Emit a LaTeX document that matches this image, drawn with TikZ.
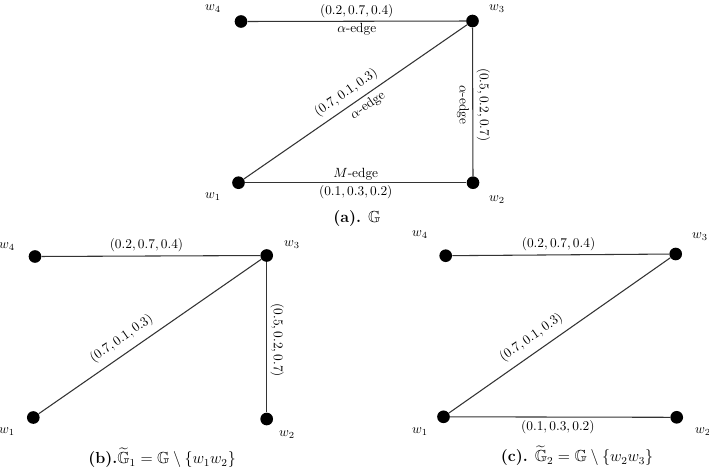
\documentclass[tikz,border=0pt]{standalone}
\usepackage{amsmath,amssymb}
\begin{document}
\begin{tikzpicture}[x=0.75pt,y=-0.75pt,
  dot/.style={circle,fill=black,inner sep=0pt,minimum size=9.5pt},
  edge/.style={draw=black!80,line width=0.8pt},
  elab/.style={inner sep=2.5pt},
  captxt/.style={font=\large}]
\useasboundingbox (0,0) rectangle (709,472);
% ---------- (a) ----------
\node[dot] (a1) at (238.5,182.7) {};
\node[dot] (a2) at (473,182.7) {};
\node[dot] (a3) at (472.5,21) {};
\node[dot] (a4) at (241,21.5) {};
\node (la1) at (213,197) {$w_1$};
\node (la2) at (497,200) {$w_2$};
\node (la3) at (497,9) {$w_3$};
\node (la4) at (213,9) {$w_4$};
\draw[edge] (a4) -- node[above,elab] (ea43) {$(0.2,0.7,0.4)$} node[below,elab,inner sep=1pt] (ea43b) {$\alpha$-edge} (a3);
\draw[edge] (a1) -- node[pos=0.49,sloped,above,elab,yshift=1.5pt] (ea13) {$(0.7,0.1,0.3)$} node[pos=0.53,sloped,below,elab] (ea13b) {$\alpha$-edge} (a3);
\draw[edge] (a3) -- node[pos=0.52,sloped,above,elab] (ea32) {$(0.5,0.2,0.7)$} node[pos=0.52,sloped,below,elab] (ea32b) {$\alpha$-edge} (a2);
\draw[edge] (a1) -- node[above,elab,inner sep=1.5pt] (ea12) {$M$-edge} node[below,elab,inner sep=1.5pt] (ea12b) {$(0.1,0.3,0.2)$} (a2);
\node[captxt] (capa) at (357,218) {\textbf{(a).} $\mathbb{G}$};
% ---------- (b) ----------
\node[dot] (b1) at (33.3,417.5) {};
\node[dot] (b2) at (266.7,419) {};
\node[dot] (b3) at (266.7,255.5) {};
\node[dot] (b4) at (35,256.5) {};
\node (lb1) at (7,432) {$w_1$};
\node (lb2) at (287,435) {$w_2$};
\node (lb3) at (292,245) {$w_3$};
\node (lb4) at (7,247) {$w_4$};
\draw[edge] (b4) -- node[pos=0.48,above,elab] (eb43) {$(0.2,0.7,0.4)$} (b3);
\draw[edge] (b1) -- node[pos=0.41,sloped,above,elab,yshift=3pt] (eb13) {$(0.7,0.1,0.3)$} (b3);
\draw[edge] (b3) -- node[pos=0.52,sloped,above,elab] (eb32) {$(0.5,0.2,0.7)$} (b2);
\node[captxt] (capb) at (162,458) {\textbf{(b).}$\widetilde{\mathbb{G}}_1=\mathbb{G}\setminus\{w_1w_2\}$};
% ---------- (c) ----------
\node[dot] (c1) at (443.5,416.8) {};
\node[dot] (c2) at (676.7,417.3) {};
\node[dot] (c3) at (675.7,254) {};
\node[dot] (c4) at (445.7,255.7) {};
\node (lc1) at (420,432) {$w_1$};
\node (lc2) at (703,432) {$w_2$};
\node (lc3) at (700,237) {$w_3$};
\node (lc4) at (420,235) {$w_4$};
\draw[edge] (c4) -- node[pos=0.49,above,elab] (ec43) {$(0.2,0.7,0.4)$} (c3);
\draw[edge] (c1) -- node[pos=0.41,sloped,above,elab,yshift=3pt] (ec13) {$(0.7,0.1,0.3)$} (c3);
\draw[edge] (c1) -- node[pos=0.49,below,elab] (ec12) {$(0.1,0.3,0.2)$} (c2);
\node[captxt] (capc) at (577,456) {\textbf{(c).} $\widetilde{\mathbb{G}}_2=\mathbb{G}\setminus\{w_2w_3\}$};
\end{tikzpicture}
\end{document}
